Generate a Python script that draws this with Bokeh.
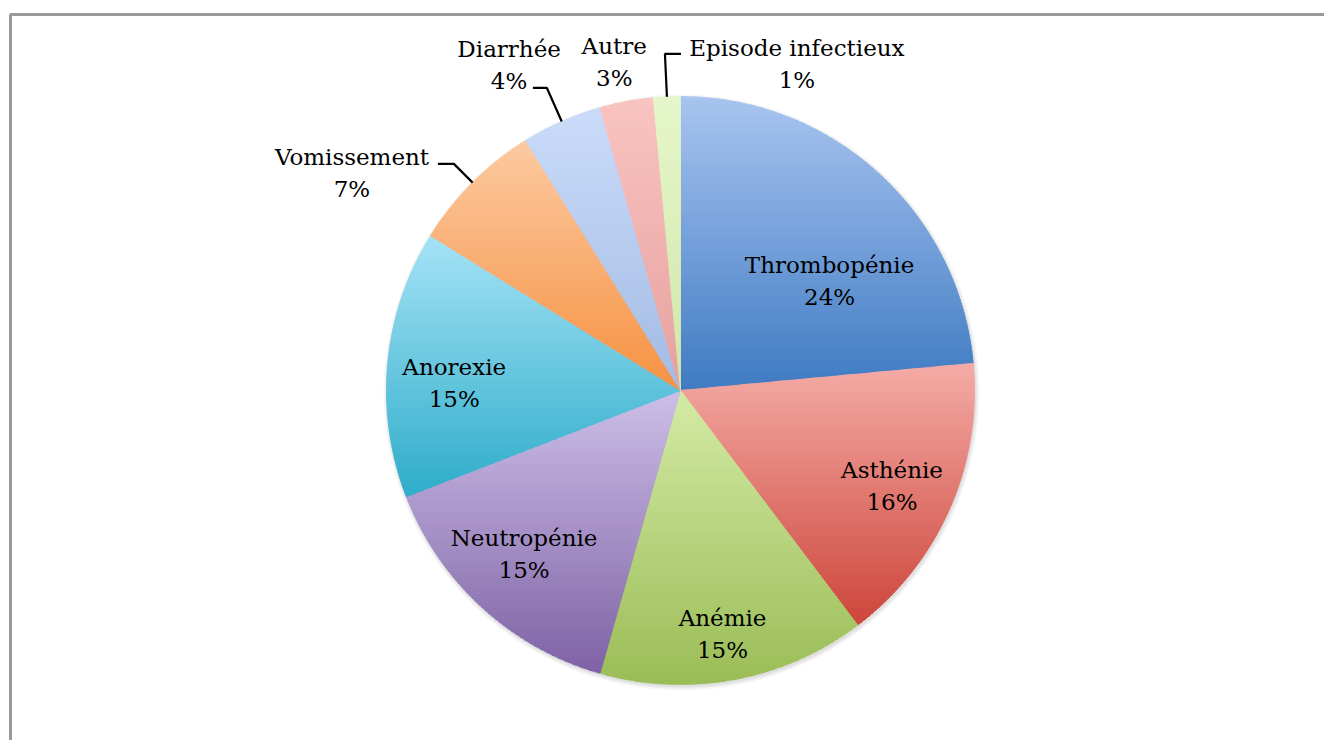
import math
from bokeh.plotting import figure
from bokeh.models import Range1d, ColumnDataSource
from bokeh.embed import file_html
from bokeh.resources import INLINE
from bokeh.core.properties import value

# ---------------- data ----------------
categories = ["Thrombopénie", "Asthénie", "Anémie", "Neutropénie", "Anorexie",
              "Vomissement", "Diarrhée", "Autre", "Episode infectieux"]
counts = [16, 11, 10, 10, 10, 5, 3, 2, 1]

# ---------------- styles ----------------
top_colors = ["#a9c5f0", "#f5aca7", "#d4eba6", "#cdbfe7", "#a6e3f6",
              "#fccaa2", "#cadcfa", "#f9c4c1", "#e6f6ca"]
bottom_colors = ["#3f7bc3", "#cd463b", "#9bbd57", "#7f63a6", "#2fadca",
                 "#f69242", "#a3bbe3", "#e6a19f", "#d1e7aa"]

# label layout: (clockwise angle from top in degrees, radius factor)
label_layout = [(53.6, 0.63), (114.4, 0.79), (170.2, 0.84), (223.7, 0.77),
                (272.0, 0.77), (303.5, 1.34), (332.2, 1.25), (348.6, 1.14),
                (19.6, 1.18)]
# leader lines: index -> (elbow radius factor, horizontal length px)
leaders = {5: (1.09, -16), 6: (1.125, -14), 8: (1.146, 16)}

W, H = 1324, 740
CX, CY, R = 680, H - 390, 294
FONT = "DejaVu Serif"

def hex2rgb(h):
    h = h.lstrip("#")
    return tuple(int(h[i:i + 2], 16) for i in (0, 2, 4))

def mix(c1, c2, t):
    a, b = hex2rgb(c1), hex2rgb(c2)
    return "#%02x%02x%02x" % tuple(int(round(a[i] + (b[i] - a[i]) * t)) for i in range(3))

def clip(poly, y, keep_above):
    out = []
    n = len(poly)
    for i in range(n):
        p1 = poly[i]
        p2 = poly[(i + 1) % n]
        in1 = (p1[1] >= y) if keep_above else (p1[1] <= y)
        in2 = (p2[1] >= y) if keep_above else (p2[1] <= y)
        if in1:
            out.append(p1)
        if in1 != in2:
            t = (y - p1[1]) / (p2[1] - p1[1])
            out.append((p1[0] + t * (p2[0] - p1[0]), y))
    return out

total = sum(counts)
pct_labels = ["%d%%" % int(round(100.0 * c / total + 1e-9)) for c in counts]

p = figure(width=W, height=H, output_backend="svg", toolbar_location=None,
           x_range=Range1d(0, W), y_range=Range1d(0, H), min_border=0)
p.axis.visible = False
p.grid.visible = False
p.outline_line_color = None
p.background_fill_color = "white"
p.border_fill_color = "white"

# frame (top and left edges visible in the reference)
p.line(x=[10, 10, W], y=[0, H - 14, H - 14], line_color="#999999", line_width=3)

# faint shadow
for k, a in enumerate([0.05, 0.04, 0.03]):
    p.circle(x=[CX + 1], y=[CY - 2], radius=R + 1 + k * 1.5, fill_color="black",
             fill_alpha=a, line_color=None)

xs, ys, cols = [], [], []
mids = []
cum = 0
for i, c in enumerate(counts):
    a0 = 2 * math.pi * cum / total
    a1 = 2 * math.pi * (cum + c) / total
    cum += c
    mids.append((a0 + a1) / 2)
    nseg = max(4, int((a1 - a0) / 0.01))
    poly = [(CX, CY)]
    for k in range(nseg + 1):
        th = a0 + (a1 - a0) * k / nseg
        poly.append((CX + R * math.sin(th), CY + R * math.cos(th)))
    ymin = min(q[1] for q in poly)
    ymax = max(q[1] for q in poly)
    nstrip = max(6, int((ymax - ymin) / 3))
    for s in range(nstrip):
        y0 = ymax - (ymax - ymin) * (s + 1) / nstrip
        y1 = ymax - (ymax - ymin) * s / nstrip
        part = clip(clip(poly, y0 - 0.4, True), y1 + 0.4, False)
        if len(part) < 3:
            continue
        t = (s + 0.5) / nstrip
        xs.append([q[0] for q in part])
        ys.append([q[1] for q in part])
        cols.append(mix(top_colors[i], bottom_colors[i], t))

src = ColumnDataSource(dict(xs=xs, ys=ys, color=cols))
p.patches("xs", "ys", source=src, fill_color="color", line_color="color",
          line_width=0.8)

# leader lines
lx, ly = [], []
for i, (rf, hl) in leaders.items():
    m = mids[i]
    sx, sy = CX + R * math.sin(m), CY + R * math.cos(m)
    ex, ey = CX + rf * R * math.sin(m), CY + rf * R * math.cos(m)
    lx.append([sx, ex, ex + hl])
    ly.append([sy, ey, ey])
p.multi_line(xs=lx, ys=ly, line_color="black", line_width=2.2)

# labels
tx, ty = [], []
for ang, rf in label_layout:
    a = math.radians(ang)
    tx.append(CX + rf * R * math.sin(a))
    ty.append(CY + rf * R * math.cos(a))
lsrc = ColumnDataSource(dict(x=tx, y=ty, name=categories, pct=pct_labels))
p.text(x="x", y="y", text="name", source=lsrc, text_font=value(FONT),
       text_font_size="23px", text_align="center", text_baseline="middle",
       y_offset=-16, text_color="black")
p.text(x="x", y="y", text="pct", source=lsrc, text_font=value(FONT),
       text_font_size="23px", text_align="center", text_baseline="middle",
       y_offset=16, text_color="black")

open("out.html", "w").write(file_html(p, INLINE))
